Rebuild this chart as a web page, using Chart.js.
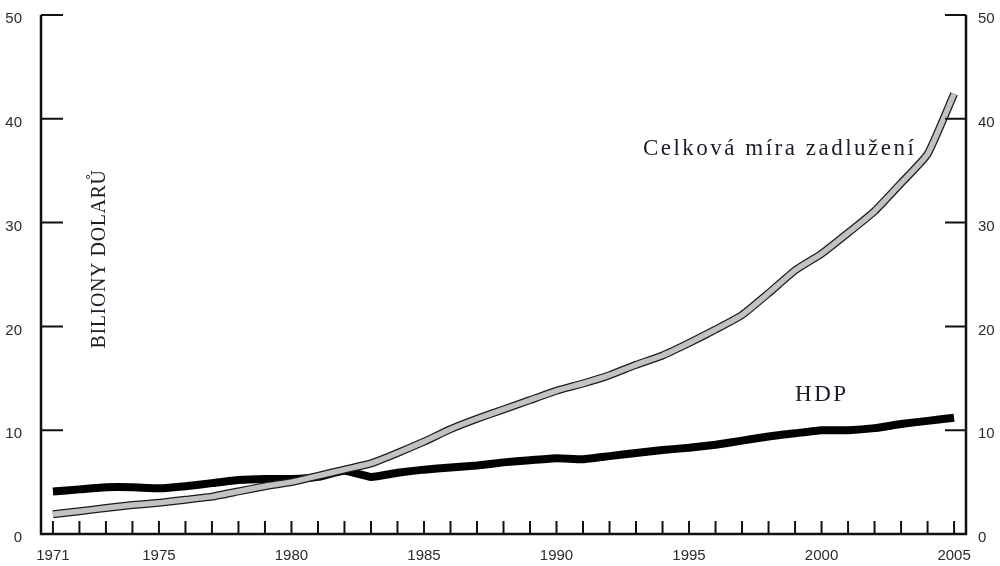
<!DOCTYPE html>
<html lang="cs">
<head>
<meta charset="utf-8">
<title>Celková míra zadlužení a HDP</title>
<script src="https://cdn.jsdelivr.net/npm/chart.js@4/dist/chart.umd.min.js"></script>
<style>
  html, body { margin: 0; padding: 0; background: #fff; }
  #obal { width: 1000px; height: 566px; }
</style>
</head>
<body>
<div id="obal"><canvas id="graf"></canvas></div>
<script>
// --- Data (biliony dolarů) ---
const roky = [1971, 1972, 1973, 1974, 1975, 1976, 1977, 1978, 1979, 1980,
              1981, 1982, 1983, 1984, 1985, 1986, 1987, 1988, 1989, 1990,
              1991, 1992, 1993, 1994, 1995, 1996, 1997, 1998, 1999, 2000,
              2001, 2002, 2003, 2004, 2005];
const celkovaMira = [1.9, 2.2, 2.5, 2.8, 3.0, 3.3, 3.6, 4.1, 4.6, 5.0,
                     5.6, 6.2, 6.8, 7.8, 8.9, 10.1, 11.1, 12.0, 12.9, 13.8,
                     14.5, 15.3, 16.3, 17.2, 18.4, 19.7, 21.1, 23.2, 25.4, 27.0,
                     29.0, 31.1, 33.8, 36.6, 42.4];
const hdp = [4.1, 4.3, 4.5, 4.5, 4.4, 4.6, 4.9, 5.2, 5.3, 5.3,
             5.5, 6.1, 5.5, 5.9, 6.2, 6.4, 6.6, 6.9, 7.1, 7.3,
             7.2, 7.5, 7.8, 8.1, 8.3, 8.6, 9.0, 9.4, 9.7, 10.0,
             10.0, 10.2, 10.6, 10.9, 11.2];
const popiskyX = [1971, 1975, 1980, 1985, 1990, 1995, 2000, 2005];
const hodnotyY = [0, 10, 20, 30, 40, 50];

const fontOsy = { family: "'Liberation Sans Narrow', 'Liberation Sans', sans-serif", size: 15 };
const barvaTextu = '#2b2b2b';

// Pevné rozměry os, bez automatického odsazení od popisků
const pevnaSirka = (w) => (s) => { s.width = w; s.paddingTop = 0; s.paddingBottom = 0; };
const pevnaVyska = (h) => (s) => { s.height = h; s.paddingLeft = 0; s.paddingRight = 0; };

// Osy a značky dovnitř grafu + textové popisky
const osyPlugin = {
    id: 'osy',
    afterDraw(chart) {
        const { ctx, chartArea: a, scales } = chart;
        const x = scales.x, y = scales.y;
        ctx.save();
        ctx.strokeStyle = '#111';
        ctx.lineWidth = 2.5;
        ctx.lineCap = 'butt';
        // hlavní čáry os
        ctx.beginPath();
        ctx.moveTo(a.left, y.getPixelForValue(50));
        ctx.lineTo(a.left, a.bottom);
        ctx.lineTo(a.right, a.bottom);
        ctx.lineTo(a.right, y.getPixelForValue(50));
        ctx.stroke();
        // značky na ose Y (vlevo i vpravo)
        ctx.lineWidth = 2;
        hodnotyY.forEach(v => {
            if (v === 0) return;
            const py = y.getPixelForValue(v);
            ctx.beginPath();
            ctx.moveTo(a.left, py); ctx.lineTo(a.left + 22, py);
            ctx.moveTo(a.right, py); ctx.lineTo(a.right - 21, py);
            ctx.stroke();
        });
        // roční značky na ose X
        roky.forEach(r => {
            const px = x.getPixelForValue(r);
            ctx.beginPath();
            ctx.moveTo(px, a.bottom); ctx.lineTo(px, a.bottom - 13);
            ctx.stroke();
        });

        // popisky řad
        ctx.fillStyle = '#1c1c28';
        ctx.font = "23px 'Liberation Serif', serif";
        ctx.textBaseline = 'alphabetic';
        ctx.textAlign = 'left';
        ctx.letterSpacing = '2.5px';
        ctx.fillText('Celková míra zadlužení', x.getPixelForValue(1993.26), y.getPixelForValue(36.5));
        ctx.fillText('HDP', x.getPixelForValue(1999.0), y.getPixelForValue(12.8));

        // popisek osy Y (svisle)
        ctx.letterSpacing = '0.6px';
        ctx.font = "20px 'Liberation Serif', serif";
        ctx.translate(a.left + 64, y.getPixelForValue(26.5));
        ctx.rotate(-Math.PI / 2);
        ctx.textAlign = 'center';
        ctx.fillText('BILIONY DOLARŮ', 0, 0);
        ctx.restore();
    }
};

new Chart(document.getElementById('graf').getContext('2d'), {
    type: 'line',
    data: {
        labels: roky,
        datasets: [{
            label: 'HDP',
            data: roky.map((r, i) => ({ x: r, y: hdp[i] })),
            borderColor: '#000',
            borderWidth: 8,
            tension: 0.15,
            order: 3
        }, {
            label: 'Celková míra zadlužení (obrys)',
            data: roky.map((r, i) => ({ x: r, y: celkovaMira[i] })),
            borderColor: '#1a1a1a',
            borderWidth: 8,
            tension: 0.15,
            order: 2
        }, {
            label: 'Celková míra zadlužení',
            data: roky.map((r, i) => ({ x: r, y: celkovaMira[i] })),
            borderColor: '#c2c2c2',
            borderWidth: 5.5,
            tension: 0.15,
            order: 1
        }]
    },
    options: {
        responsive: true, maintainAspectRatio: false, animation: false,
        layout: { padding: { top: 15, left: 0, right: 0, bottom: 0 } },
        elements: { point: { radius: 0, hoverRadius: 0 }, line: { borderCapStyle: 'butt', borderJoinStyle: 'round' } },
        plugins: { legend: { display: false }, tooltip: { enabled: false } },
        scales: {
            x: {
                type: 'linear', position: 'bottom', min: 1970.55, max: 2005.45,
                grid: { display: false, drawTicks: false }, border: { display: false },
                afterBuildTicks: (s) => { s.ticks = popiskyX.map(v => ({ value: v })); },
                afterFit: pevnaVyska(32),
                ticks: { font: fontOsy, color: barvaTextu, padding: 13, maxRotation: 0, autoSkip: false, callback: (v) => String(v) }
            },
            y: {
                position: 'left', min: 0, max: 50,
                grid: { display: false, drawTicks: false }, border: { display: false },
                afterFit: pevnaSirka(41),
                ticks: { stepSize: 10, font: fontOsy, color: barvaTextu, padding: 19, labelOffset: 4 }
            },
            y2: {
                position: 'right', min: 0, max: 50,
                grid: { display: false, drawTicks: false }, border: { display: false },
                afterFit: pevnaSirka(34),
                ticks: { stepSize: 10, font: fontOsy, color: barvaTextu, padding: 12, labelOffset: 4 }
            }
        }
    },
    plugins: [osyPlugin]
});
</script>
</body>
</html>
